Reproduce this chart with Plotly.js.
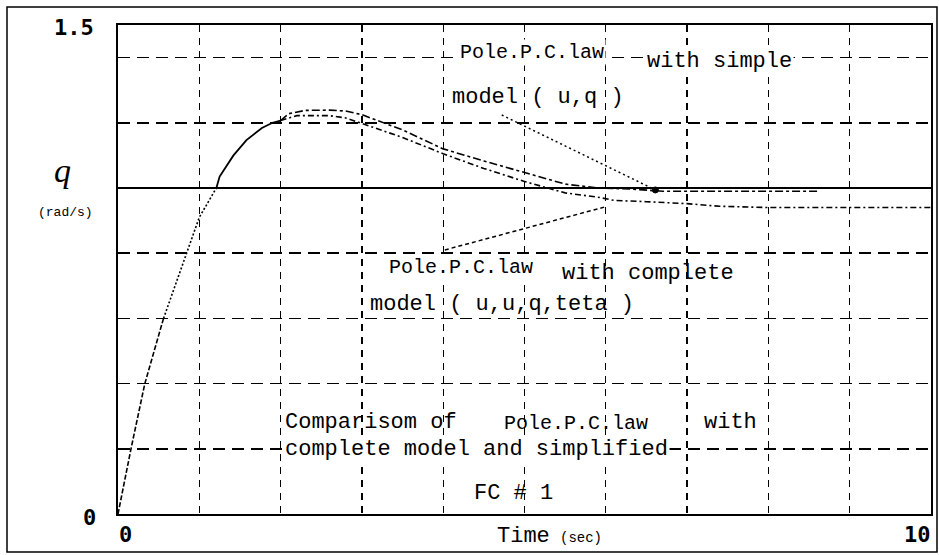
<!DOCTYPE html>
<html>
<head>
<meta charset="utf-8">
<script src="https://cdn.plot.ly/plotly-3.0.1.min.js"></script>
<style>html,body{margin:0;padding:0;background:#fff;}#chart{width:939px;height:555px;}</style>
</head>
<body>
<div id="chart"></div>
<script>
// ---- data ----
const riseTime = [0, 0.04, 0.16, 0.33, 0.56, 0.85, 1.0, 1.21, 1.25, 1.42, 1.58, 1.77, 1.9, 2.0];
const riseQ    = [0, 0.05, 0.2, 0.4, 0.6, 0.8, 0.91, 1.0, 1.035, 1.1, 1.147, 1.184, 1.2, 1.207];

const simpleTime = [2.0, 2.1, 2.3, 2.6, 2.8, 3.0, 3.5, 4.0, 4.5, 5.0, 5.5, 5.9, 6.3, 6.7, 7.5, 8.6];
const simpleQ    = [1.207, 1.228, 1.238, 1.239, 1.236, 1.225, 1.178, 1.12, 1.083, 1.047, 1.012, 1.0, 0.997, 0.99, 0.99, 0.99];

const completeTime = [2.0, 2.2, 2.6, 2.8, 3.0, 3.5, 4.0, 4.5, 5.0, 5.5, 5.9, 6.1, 6.5, 7.0, 7.4, 8.0, 9.0, 10.0];
const completeQ    = [1.207, 1.222, 1.222, 1.215, 1.198, 1.155, 1.105, 1.06, 1.02, 0.985, 0.972, 0.962, 0.958, 0.952, 0.944, 0.94, 0.94, 0.94];

const referenceQ = 1.0;
const xGrid = [1, 2, 3, 4, 5, 6, 7, 8, 9];
const yGrid = [0.2, 0.4, 0.6, 0.8, 1.2, 1.4];
const xRange = [0, 10];
const yRange = [0, 1.5];
const xTickLabels = ["0", "10"];
const yTickLabels = ["0", "1.5"];

// pointer lines (time, q)
const simplePointer = {from: [4.72, 1.224], to: [6.61, 0.994]};
const completePointer = {from: [4.02, 0.81], to: [5.99, 0.942]};

// ---- layout helpers ----
const L = 118, R = 931, T = 25, B = 514;
const px = x => (x - L) / (R - L);
const py = y => (B - y) / (B - T);

const mono = "Liberation Mono, DejaVu Sans Mono, monospace";
function ann(text, x, y, size, opts) {
  return Object.assign({
    text: text, xref: "paper", yref: "paper", x: px(x), y: py(y),
    xanchor: "left", yanchor: "middle", showarrow: false,
    font: {family: mono, size: size, color: "#000"}
  }, opts || {});
}

const traces = [
  {x: riseTime.slice(0, 5), y: riseQ.slice(0, 5), mode: "lines",
   line: {color: "#000", width: 1.6, dash: "5px,2px"}, hoverinfo: "skip"},
  {x: riseTime.slice(4, 8), y: riseQ.slice(4, 8), mode: "lines",
   line: {color: "#000", width: 1.6, dash: "2px,2px"}, hoverinfo: "skip"},
  {x: riseTime.slice(7), y: riseQ.slice(7), mode: "lines",
   line: {color: "#000", width: 1.8}, hoverinfo: "skip"},
  {x: simpleTime, y: simpleQ, mode: "lines",
   line: {color: "#000", width: 1.6, dash: "8px,3px,3px,3px"}, hoverinfo: "skip"},
  {x: completeTime, y: completeQ, mode: "lines",
   line: {color: "#000", width: 1.6, dash: "6px,3px,2px,3px"}, hoverinfo: "skip"}
];

const shapes = [
  // outer frame
  {type: "rect", xref: "paper", yref: "paper", x0: px(7), x1: px(937), y0: py(552), y1: py(7),
   line: {color: "#000", width: 1.5}, layer: "below"},
  // solid reference line
  {type: "line", xref: "x", yref: "y", x0: xRange[0], x1: xRange[1], y0: referenceQ, y1: referenceQ,
   line: {color: "#000", width: 2}},
  // pointers
  {type: "line", xref: "x", yref: "y", x0: simplePointer.from[0], y0: simplePointer.from[1],
   x1: simplePointer.to[0], y1: simplePointer.to[1], line: {color: "#000", width: 1.5, dash: "2px,3px"}},
  {type: "circle", xref: "x", yref: "y", xsizemode: "pixel", ysizemode: "pixel",
   xanchor: simplePointer.to[0], yanchor: simplePointer.to[1], x0: -3, x1: 3, y0: -3, y1: 3,
   fillcolor: "#000", line: {color: "#000", width: 1}},
  {type: "line", xref: "x", yref: "y", x0: completePointer.from[0], y0: completePointer.from[1],
   x1: completePointer.to[0], y1: completePointer.to[1], line: {color: "#000", width: 1.5, dash: "4px,3px"}}
];

const annotations = [
  ann("Pole.P.C.law", 458, 53, 20, {bgcolor: "#fff"}),
  ann("with simple", 645, 62, 22, {bgcolor: "#fff"}),
  ann("model ( u,q )", 450, 97, 22),
  ann("Pole.P.C.law", 387, 267, 20, {bgcolor: "#fff"}),
  ann("with complete", 560, 273, 22),
  ann("model ( u,u,q,teta )", 368, 304, 22),
  ann("Comparisom of", 283, 422, 22),
  ann("Pole.P.C.law", 502, 423, 20),
  ann("with", 702, 422, 22),
  ann("complete model and simplified", 283, 449, 22, {bgcolor: "#fff"}),
  ann("FC # 1", 472, 493, 22),
  ann("Time", 495, 536, 22),
  ann("(sec)", 558, 538, 14),
  // tick labels
  ann(yTickLabels[1], 96, 28, 22, {xanchor: "right", font: {family: "DejaVu Sans Mono", size: 22, color: "#000", weight: "bold"}}),
  ann(yTickLabels[0], 89, 517, 22, {xanchor: "center", font: {family: "DejaVu Sans Mono", size: 22, color: "#000", weight: "bold"}}),
  ann(xTickLabels[0], 125, 534, 22, {xanchor: "center", font: {family: "DejaVu Sans Mono", size: 22, color: "#000", weight: "bold"}}),
  ann(xTickLabels[1], 917, 534, 22, {xanchor: "center", font: {family: "DejaVu Sans Mono", size: 22, color: "#000", weight: "bold"}}),
  // y axis label
  ann("q", 62, 170, 34, {xanchor: "center", font: {family: "Liberation Serif", size: 34, color: "#000", style: "italic"}}),
  ann("(rad/s)", 65, 212, 13, {xanchor: "center", font: {family: mono, size: 13, color: "#000"}})
];

const layout = {
  width: 939, height: 555,
  margin: {l: L, r: 939 - R, t: T, b: 555 - B, pad: 0},
  paper_bgcolor: "#fff", plot_bgcolor: "#fff",
  showlegend: false,
  xaxis: {range: xRange, tickvals: xGrid, showticklabels: false, ticks: "",
          showgrid: true, gridcolor: "#000", gridwidth: 1.3, griddash: "7px,6px",
          zeroline: false, showline: true, mirror: true, linecolor: "#000", linewidth: 2, fixedrange: true},
  yaxis: {range: yRange, tickvals: yGrid, showticklabels: false, ticks: "",
          showgrid: true, gridcolor: "#000", gridwidth: 1.5, griddash: "12px,7px",
          zeroline: false, showline: true, mirror: true, linecolor: "#000", linewidth: 2, fixedrange: true},
  shapes: shapes,
  annotations: annotations
};

Plotly.newPlot("chart", traces, layout, {staticPlot: true, displayModeBar: false});
</script>
</body>
</html>
